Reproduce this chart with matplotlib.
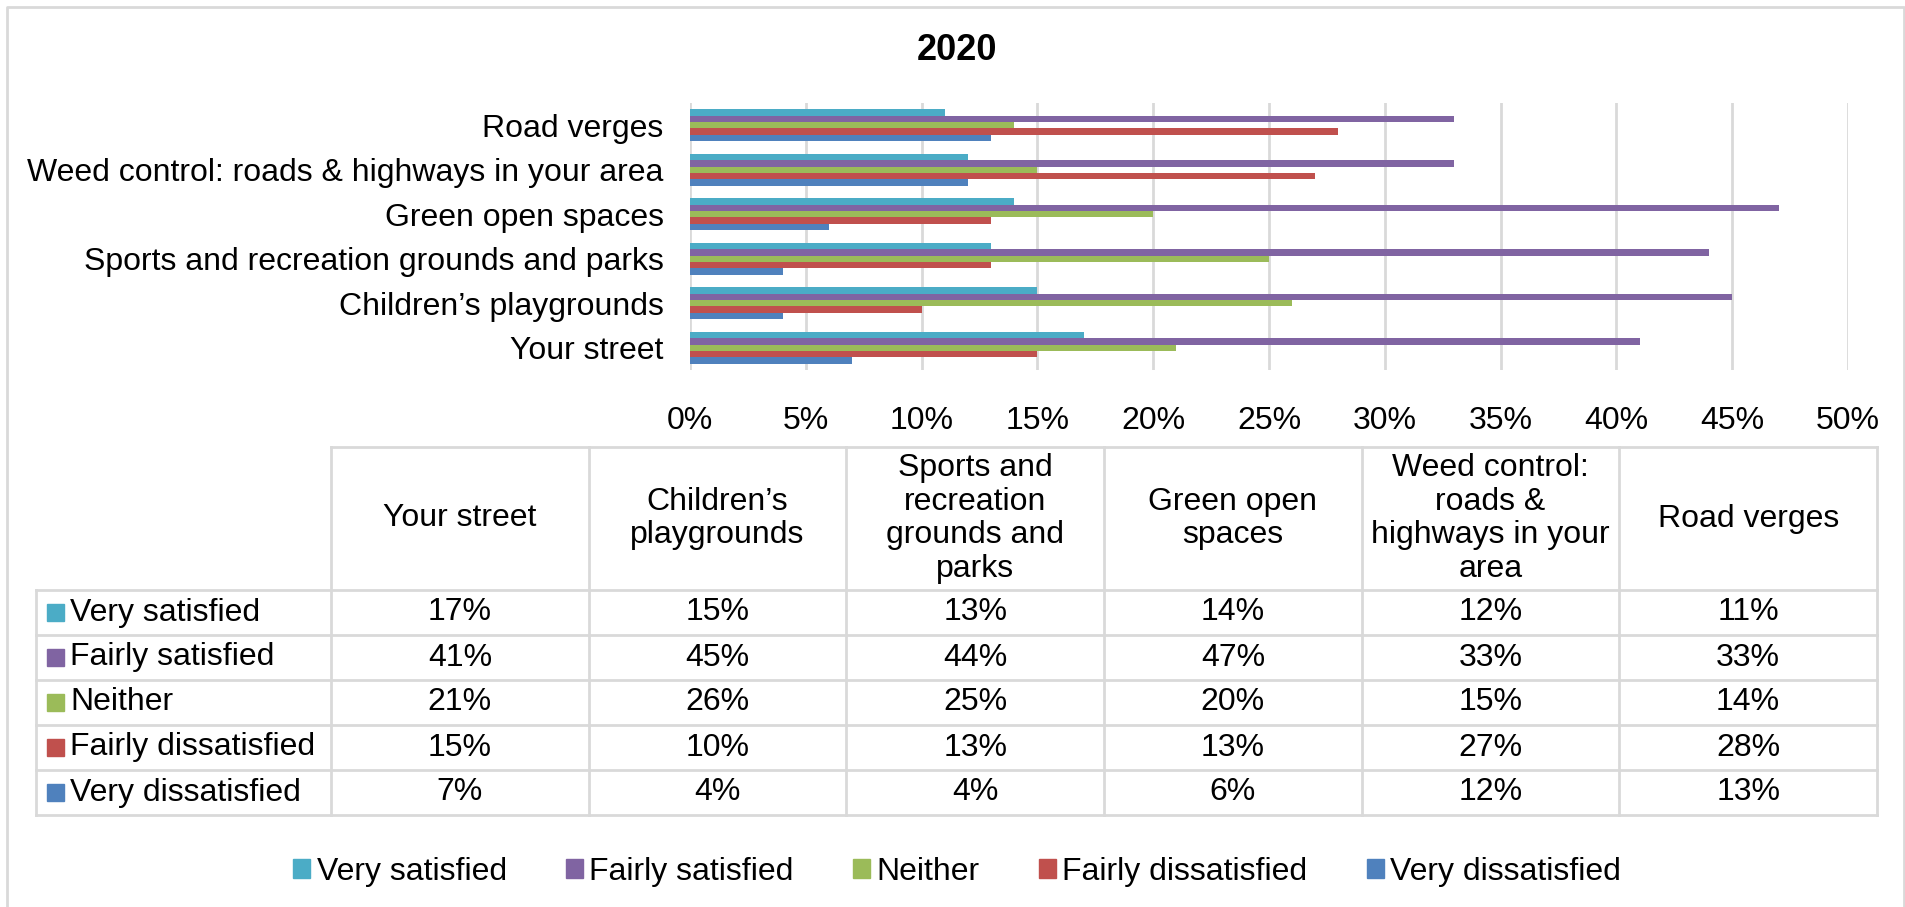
import matplotlib.pyplot as plt
import numpy as np
from matplotlib.patches import Patch

plt.rcParams['font.family'] = ['Liberation Sans', 'DejaVu Sans']

# Категории (снизу вверх на графике) и подписи столбцов таблицы
categories = ['Your street', 'Children’s playgrounds',
              'Sports and recreation grounds and parks', 'Green open spaces',
              'Weed control: roads & highways in your area', 'Road verges']
table_headers = ['Your street', 'Children’s\nplaygrounds',
                 'Sports and\nrecreation\ngrounds and\nparks', 'Green open\nspaces',
                 'Weed control:\nroads &\nhighways in your\narea', 'Road verges']

series_names = ['Very satisfied', 'Fairly satisfied', 'Neither',
                'Fairly dissatisfied', 'Very dissatisfied']
very_satisfied = [17, 15, 13, 14, 12, 11]
fairly_satisfied = [41, 45, 44, 47, 33, 33]
neither = [21, 26, 25, 20, 15, 14]
fairly_dissatisfied = [15, 10, 13, 13, 27, 28]
very_dissatisfied = [7, 4, 4, 6, 12, 13]
series_values = [very_satisfied, fairly_satisfied, neither,
                 fairly_dissatisfied, very_dissatisfied]
colors = ['#4BACC6', '#8064A2', '#9BBB59', '#C0504D', '#4F81BD']

x_ticks = list(range(0, 55, 5))

W, H = 1906, 907
FS = 23
GRID = '#D9D9D9'


def main():
    fig = plt.figure(figsize=(W / 100, H / 100), dpi=100)

    # Основной график с горизонтальными столбцами
    ax = fig.add_axes([690 / W, 1 - 370 / H, 1158 / W, 267 / H])
    y = np.arange(len(categories))
    h = 0.146
    for k, (name, vals, col) in enumerate(zip(series_names, series_values, colors)):
        ax.barh(y + (2 - k) * h, vals, height=h, color=col, label=name, zorder=3)

    ax.set_xlim(0, 50)
    ax.set_ylim(-0.5, len(categories) - 0.5)
    ax.set_xticks(x_ticks)
    ax.set_xticklabels([f'{t}%' for t in x_ticks], fontsize=FS)
    ax.set_yticks(y)
    ax.set_yticklabels(categories, fontsize=FS)
    ax.tick_params(axis='both', length=0)
    ax.tick_params(axis='x', pad=26)
    ax.tick_params(axis='y', pad=19)
    ax.grid(axis='x', color=GRID, linewidth=2, zorder=0)
    for s in ax.spines.values():
        s.set_visible(False)

    fig.text(957 / W, 1 - 51 / H, '2020', fontsize=26, fontweight='bold',
             ha='center', va='center')

    # Таблица с данными под графиком (в пиксельных координатах)
    tax = fig.add_axes([0, 0, 1, 1])
    tax.set_xlim(0, W)
    tax.set_ylim(H, 0)
    tax.axis('off')

    col_x = np.linspace(331, 1877, len(categories) + 1)
    label_x0 = 36
    head_top, head_bot = 447, 590
    row_h = 45
    row_y = [head_bot + row_h * i for i in range(len(series_names) + 1)]
    lw = 2

    tax.plot([col_x[0], col_x[-1]], [head_top, head_top], color=GRID, lw=lw)
    for yy in row_y:
        tax.plot([label_x0, col_x[-1]], [yy, yy], color=GRID, lw=lw)
    tax.plot([label_x0, label_x0], [row_y[0], row_y[-1]], color=GRID, lw=lw)
    for xx in col_x:
        tax.plot([xx, xx], [head_top, row_y[-1]], color=GRID, lw=lw)

    for j, head in enumerate(table_headers):
        cx = (col_x[j] + col_x[j + 1]) / 2
        tax.text(cx, (head_top + head_bot) / 2, head, fontsize=FS,
                 ha='center', va='center', linespacing=1.15)

    for i, (name, vals, col) in enumerate(zip(series_names, series_values, colors)):
        cy = (row_y[i] + row_y[i + 1]) / 2
        tax.add_patch(plt.Rectangle((47, cy - 8.5), 17, 17, color=col))
        tax.text(70, cy, name, fontsize=FS, ha='left', va='center')
        for j, v in enumerate(vals):
            cx = (col_x[j] + col_x[j + 1]) / 2
            tax.text(cx, cy, f'{v}%', fontsize=FS, ha='center', va='center')

    # Рамка вокруг всей диаграммы
    tax.plot([7, 7, 1904, 1904], [H, 7, 7, H], color=GRID, lw=2)

    # Легенда внизу
    handles = [Patch(color=c, label=n) for n, c in zip(series_names, colors)]
    fig.legend(handles=handles, loc='center', bbox_to_anchor=(957 / W, 1 - 872 / H),
               ncol=5, frameon=False, fontsize=FS, handlelength=0.54,
               handleheight=0.54, handletextpad=0.2, columnspacing=1.85)

    fig.savefig('out.png', dpi=100)


if __name__ == '__main__':
    main()
